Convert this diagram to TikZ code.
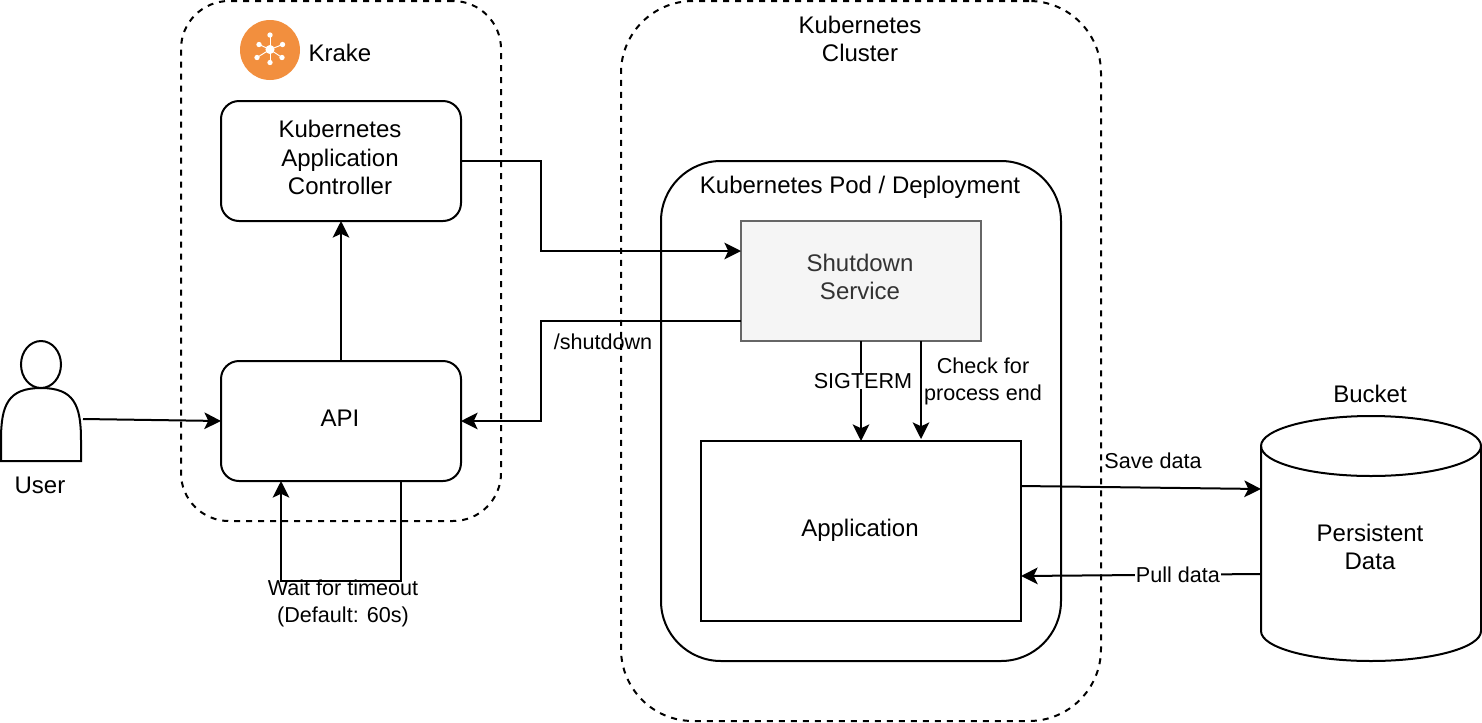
\documentclass[tikz,border=0pt]{standalone}
\usepackage{fontspec}
\setmainfont{Liberation Sans}
\usetikzlibrary{arrows.meta,shapes.geometric}
\definecolor{krakeorange}{HTML}{F28F3E}
\definecolor{shutfill}{HTML}{F5F5F5}
\definecolor{shutline}{HTML}{666666}
\definecolor{shuttext}{HTML}{333333}
\def\pxu{0.75pt}
\tikzset{
  x=0.75pt,y=-0.75pt,
  every node/.style={font=\fontsize{18pt}{21.5pt}\selectfont,align=center,inner sep=0pt,outer sep=0pt},
  ln/.style={line width=1.5pt,draw=black},
  boxnode/.style={ln,minimum width=240*\pxu,minimum height=120*\pxu},
  roundbox/.style={boxnode,rounded corners=13.5pt},
  zone/.style={ln,dash pattern=on 4.5pt off 4.5pt},
  conn/.style={ln,-{Stealth[length=12.5pt,width=12.5pt,inset=3pt]}},
  lab/.style={font=\fontsize{16.2pt}{20.25pt}\selectfont},
  whitelab/.style={lab,fill=white,inner xsep=1pt,inner ysep=0pt}
}
\begin{document}
\begin{tikzpicture}
\useasboundingbox (0,0) rectangle (1482,722);
% zones
\node[zone,rounded corners=36pt,minimum width=320*\pxu,minimum height=520*\pxu] (krakezone) at (341,261) {};
\node[zone,rounded corners=54pt,minimum width=480*\pxu,minimum height=720*\pxu] (clusterzone) at (861,361) {};
\node[ln,rounded corners=45pt,minimum width=400*\pxu,minimum height=500*\pxu] (pod) at (861,411) {};
% logo
\node[fill=krakeorange,circle,minimum size=60*\pxu] (logo) at (270,50) {};
\coordinate (hub) at (270,49.5);
\foreach \a/\b in {270/35,282.5/44.5,282/57.5,270/62.5,257/57.5,259/44.5}{
  \draw[white,line width=0.7pt] (hub) -- (\a,\b);
  \fill[white] (\a,\b) circle (2pt);
}
\fill[white] (hub) circle (3.4pt);
\node (kraketext) at (340,53) {Krake};
\node (clustertext) at (860,39) {Kubernetes\\Cluster};
\node (podtext) at (860,187) {Kubernetes Pod / Deployment};
% boxes
\node[roundbox] (ctrl) at (341,161) {};
\node (ctrltext) at (340,157.5) {Kubernetes\\Application\\Controller};
\node[roundbox] (api) at (341,421) {};
\node (apitext) at (340,418) {API};
\node[boxnode,draw=shutline,fill=shutfill] (shutdown) at (861,281) {};
\node[text=shuttext] (shuttext) at (860,277) {Shutdown\\Service};
\node[ln,minimum width=320*\pxu,minimum height=180*\pxu] (app) at (861,531) {};
\node (apptext) at (860,530) {Application};
% user
\draw[ln,fill=white,line join=miter] (1,461) -- (1,440) .. controls (1,405) and (8,388) .. (41,388) .. controls (74,388) and (81,405) .. (81,440) -- (81,461) -- cycle;
\node[ln,ellipse,fill=white,minimum width=40*\pxu,minimum height=47*\pxu] (userhead) at (41,364.5) {};
\coordinate (userout) at (83,419);
\node (usertext) at (40,485) {User};
% bucket
\path[ln,fill=white] (1261,446) arc[x radius=110,y radius=30,start angle=180,end angle=360] -- (1481,631) arc[x radius=110,y radius=30,start angle=0,end angle=180] -- cycle;
\draw[ln] (1261,446) arc[x radius=110,y radius=30,start angle=180,end angle=0];
\node (buckettext) at (1370,394) {Bucket};
\node (persist) at (1370,547) {Persistent\\Data};
\coordinate (saveend) at (1261,489);
\coordinate (pullstart) at (1261,574);
\coordinate (savestart) at (app.east |- 0,486);
\coordinate (pullend) at (app.east |- 0,576);
% connectors
\draw[conn] (userout) -- (api.west);
\draw[conn] (api.north) -- (ctrl.south);
\coordinate (loopa) at (401,481);
\coordinate (loopb) at (281,481);
\draw[conn] (loopa) -- (401,581) -- (281,581) -- (loopb);
\node[lab] (looplabel) at (343,603) {Wait for timeout\\(Default: 60s)};
\draw[conn] (ctrl.east) -- (541,161) -- (541,251) -- (741,251);
\draw[conn] (741,321) -- (541,321) -- (541,421) -- (api.east);
\node[lab] (shutlabel) at (603,342) {/shutdown};
\draw[conn] (shutdown.south) -- (app.north);
\node[whitelab] (sigterm) at (863,381) {SIGTERM};
\coordinate (checka) at (921,341);
\coordinate (checkb) at (921,439);
\draw[conn] (checka) -- (checkb);
\node[lab,fill=white] (checklabel) at (983,381) {Check for\\process end};
\draw[conn] (savestart) -- (saveend);
\node[lab] (savelabel) at (1153,461) {Save data};
\draw[conn] (pullstart) -- (pullend);
\node[whitelab] (pulllabel) at (1178,575) {Pull data};
\end{tikzpicture}
\end{document}
